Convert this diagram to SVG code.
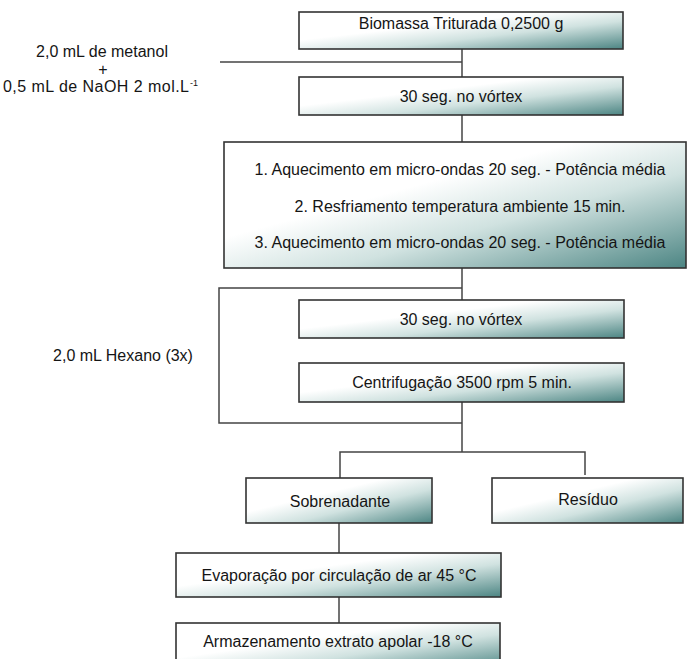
<svg xmlns="http://www.w3.org/2000/svg" width="687" height="659" viewBox="0 0 687 659">
<defs>
<linearGradient id="g" x1="0" y1="0" x2="1" y2="1">
<stop offset="0" stop-color="#ffffff"/>
<stop offset="0.38" stop-color="#ffffff"/>
<stop offset="0.62" stop-color="#d0e2e0"/>
<stop offset="1" stop-color="#4c8583"/>
</linearGradient>
<style>
.box{fill:url(#g);stroke:#333;stroke-width:1.6}
.ln{fill:none;stroke:#444;stroke-width:1.5}
text{font-family:"Liberation Sans",Arial,Helvetica,sans-serif;font-size:16px;fill:#151515}
.c{text-anchor:middle}
</style>
</defs>
<rect width="687" height="659" fill="#ffffff"/>
<g id="connectors">
<path class="ln" d="M220 62 H462"/>
<path class="ln" d="M462 49 V77"/>
<path class="ln" d="M462 115 V142"/>
<path class="ln" d="M462 268 V300"/>
<path class="ln" d="M462 288 H219 V423 H462"/>
<path class="ln" d="M462 402 V452"/>
<path class="ln" d="M340 478 V452 H585 V475"/>
<path class="ln" d="M339 523 V553"/>
<path class="ln" d="M339 597 V623"/>
</g>
<g id="reagents1">
<text class="c" x="102" y="57">2,0 mL de metanol</text>
<text class="c" x="103" y="75">+</text>
<text x="3" y="92" textLength="186">0,5 mL de NaOH 2 mol.L</text><text x="190" y="86" style="font-size:9px">-1</text>
</g>
<g id="reagents2">
<text class="c" x="123" y="361">2,0 mL Hexano (3x)</text>
</g>
<g id="n1">
<rect class="box" x="299" y="12" width="324" height="37"/>
<text class="c" x="461" y="29">Biomassa Triturada 0,2500 g</text>
</g>
<g id="n2">
<rect class="box" x="299" y="77" width="324" height="38"/>
<text class="c" x="461" y="102">30 seg. no vórtex</text>
</g>
<g id="n3">
<rect class="box" x="224" y="142" width="462" height="126"/>
<text class="c" x="460" y="175">1. Aquecimento em micro-ondas 20 seg. - Potência média</text>
<text class="c" x="460" y="212">2. Resfriamento temperatura ambiente 15 min.</text>
<text class="c" x="460" y="248">3. Aquecimento em micro-ondas 20 seg. - Potência média</text>
</g>
<g id="n4">
<rect class="box" x="299" y="300" width="325" height="38"/>
<text class="c" x="461" y="325">30 seg. no vórtex</text>
</g>
<g id="n5">
<rect class="box" x="299" y="363" width="325" height="39"/>
<text class="c" x="462" y="388">Centrifugação 3500 rpm 5 min.</text>
</g>
<g id="n6">
<rect class="box" x="246" y="478" width="186" height="45"/>
<text class="c" x="340" y="507">Sobrenadante</text>
</g>
<g id="n7">
<rect class="box" x="492" y="478" width="191" height="45"/>
<text class="c" x="588" y="505">Resíduo</text>
</g>
<g id="n8">
<rect class="box" x="176" y="553" width="325" height="44"/>
<text class="c" x="339" y="581">Evaporação por circulação de ar 45 °C</text>
</g>
<g id="n9">
<rect class="box" x="176" y="623" width="324" height="46"/>
<text class="c" x="338" y="647">Armazenamento extrato apolar -18 °C</text>
</g>
</svg>
